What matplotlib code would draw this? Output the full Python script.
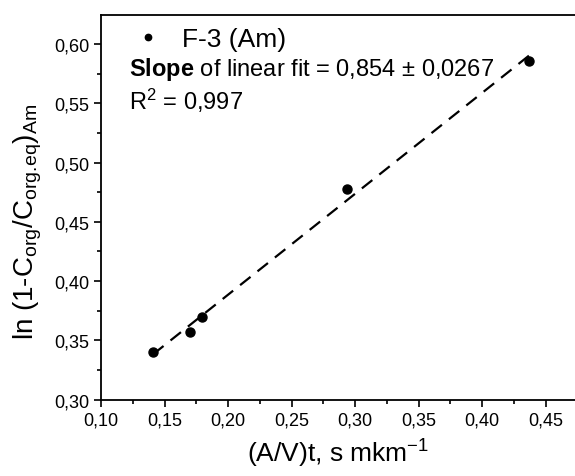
import numpy as np
import matplotlib
matplotlib.use('Agg')
import matplotlib.pyplot as plt
from matplotlib.ticker import MultipleLocator, FuncFormatter

plt.rcParams['font.family'] = ['Liberation Sans', 'DejaVu Sans']
plt.rcParams['mathtext.fontset'] = 'custom'
plt.rcParams['mathtext.rm'] = 'Liberation Sans'
plt.rcParams['mathtext.it'] = 'Liberation Sans:italic'
plt.rcParams['mathtext.bf'] = 'Liberation Sans:bold'
plt.rcParams['mathtext.default'] = 'regular'

# data
av_t = [0.141, 0.170, 0.1795, 0.2935, 0.437]
ln_ratio = [0.340, 0.357, 0.370, 0.4775, 0.586]
series_label = 'F-3 (Am)'
slope_text = r'$\bf{Slope}$ of linear fit = 0,854 ± 0,0267'
r2_text = r'R$^2$ = 0,997'

fig = plt.figure(figsize=(5.75, 4.77), dpi=100)
ax = fig.add_axes([0.1757, 0.16, 0.8243, 0.8065])

# linear fit through the points
k, b = np.polyfit(av_t, ln_ratio, 1)
xfit = np.array([min(av_t), max(av_t)])
ax.plot(xfit, k * xfit + b, color='black', lw=1.6, dashes=(6, 4))
ax.plot(av_t, ln_ratio, 'o', color='black', ms=6.5, label=series_label)

ax.set_xlim(0.10, 0.4732)
ax.set_ylim(0.30, 0.6244)

comma = FuncFormatter(lambda v, p: ('%.2f' % v).replace('.', ','))
ax.xaxis.set_major_locator(MultipleLocator(0.05))
ax.xaxis.set_minor_locator(MultipleLocator(0.025))
ax.yaxis.set_major_locator(MultipleLocator(0.05))
ax.yaxis.set_minor_locator(MultipleLocator(0.025))
ax.xaxis.set_major_formatter(comma)
ax.yaxis.set_major_formatter(comma)
ax.tick_params(which='major', direction='out', length=5, width=1.2, labelsize=13)
ax.tick_params(which='minor', direction='out', length=3, width=1.2)
for s in ax.spines.values():
    s.set_linewidth(1.3)
ax.spines['right'].set_visible(False)

ax.set_xlabel(r'(A/V)t, s mkm$^{-1}$', fontsize=19, labelpad=6)
ax.set_ylabel(r'ln (1-C$_{org}$/C$_{org.\!eq}$)$_{Am}$', fontsize=20)
ax.yaxis.set_label_coords(-0.12, 0.465)

ax.legend(loc='upper left', bbox_to_anchor=(0.024, 1.03), frameon=False,
          fontsize=19, handlelength=0.9, handletextpad=0.83, markerscale=0.7)
ax.text(0.059, 0.844, slope_text, transform=ax.transAxes, fontsize=17)
ax.text(0.059, 0.756, r2_text, transform=ax.transAxes, fontsize=17)

fig.savefig('out.png', dpi=100)
